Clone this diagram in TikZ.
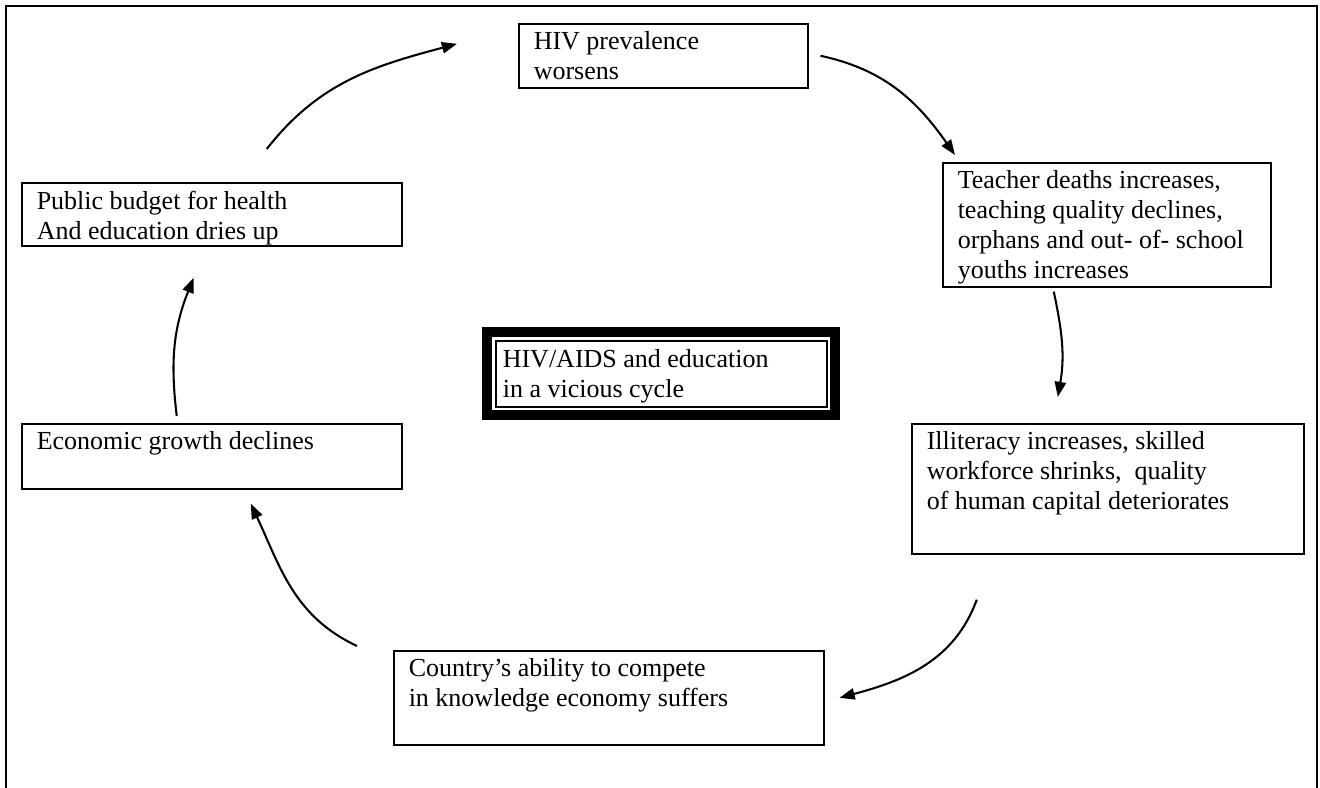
\documentclass[tikz,border=0pt]{standalone}
\usepackage{fontspec}
\setmainfont{Liberation Serif}
\usetikzlibrary{arrows.meta, positioning, fit}
\newlength{\pxu}
\setlength{\pxu}{0.4615pt}
\newcommand{\boxtext}[3]{\parbox[t][#2\pxu][t]{#1\pxu}{\raggedright #3}}
\tikzset{
  cyclebox/.style={rectangle, draw=black, line width=0.75pt, anchor=north west,
    inner xsep=6.9pt, inner ysep=3.7pt, font=\fontsize{12}{13.85}\selectfont},
  corebox/.style={rectangle, draw=black, line width=0.8pt, anchor=north west,
    inner xsep=3.2pt, inner ysep=4.15pt, font=\fontsize{12}{13.85}\selectfont},
  coreframe/.style={rectangle, draw=black, line width=4.6pt, inner sep=3.55pt},
  cyclearrow/.style={-{Triangle[length=7pt, width=5.2pt]}, line width=0.95pt},
  pageframe/.style={line width=0.85pt}
}
\begin{document}
\begin{tikzpicture}[x=0.4615pt, y=0.4615pt]
  \useasboundingbox (0,0) rectangle (1320,788);
  % frame round the figure, open at the bottom
  \draw[pageframe] (6,0) -- (6,782) -- (1317,782) -- (1317,0);

  % stages of the cycle
  \node[cyclebox] (hiv) at (518,765) {\boxtext{259}{48}{HIV prevalence\\worsens}};
  \node[cyclebox] (teacher) at (942,626) {\boxtext{298}{108}{Teacher deaths increases,\\teaching quality declines,\\orphans and out- of- school\\youths increases}};
  \node[cyclebox] (illit) at (911,365) {\boxtext{362}{114}{Illiteracy increases, skilled\\workforce shrinks,\ \ quality\\of human capital deteriorates}};
  \node[cyclebox] (country) at (393,138) {\boxtext{400}{78}{Country’s ability to compete\\in knowledge economy suffers}};
  \node[cyclebox] (econ) at (21,365) {\boxtext{350}{49}{Economic growth declines}};
  \node[cyclebox] (budget) at (21,606) {\boxtext{350}{47}{Public budget for health\\And education dries up}};

  % title in the middle
  \node[corebox] (core) at (495,448) {\boxtext{317}{48}{HIV/AIDS and education\\in a vicious cycle}};
  \node[coreframe, fit=(core)] (coreborder) {};

  % arrows
  \draw[cyclearrow] ([shift={(55,33)}]budget.north) to[out=52,in=195] ([shift={(-61,12)}]hiv.west);
  \draw[cyclearrow] ([shift={(12,0)}]hiv.east) to[out=-12,in=125] ([shift={(13,7)}]teacher.north west);
  \draw[cyclearrow] ([shift={(-53,-4)}]teacher.south) to[out=-78,in=80] ([shift={(-50,26)}]illit.north);
  \draw[cyclearrow] ([shift={(-131,-45)}]illit.south) to[out=-110,in=15] ([shift={(15,0)}]country.east);
  \draw[cyclearrow] ([shift={(-36,4)}]country.north west) to[out=155,in=-65] ([shift={(39,-14)}]econ.south);
  \draw[cyclearrow] ([shift={(-35,7)}]econ.north) to[out=97,in=-112] ([shift={(-18,-31)}]budget.south);
\end{tikzpicture}
\end{document}
